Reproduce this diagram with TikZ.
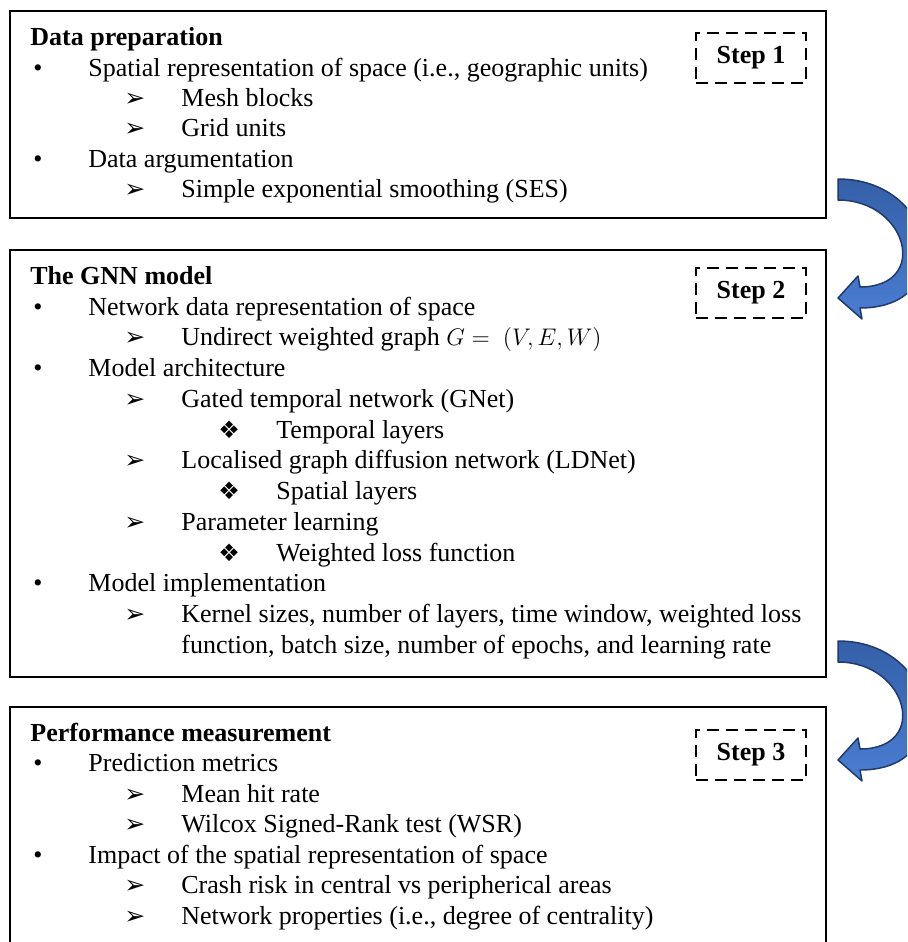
\documentclass[tikz,border=0pt]{standalone}
\usepackage{fontspec}
\setmainfont{Liberation Serif}
\newfontfamily\dingfont{DejaVu Sans}
\definecolor{arrowdark}{HTML}{1F3B6E}
\definecolor{arrowtop}{HTML}{3560A8}
\definecolor{arrowbot}{HTML}{4A7DD2}
\tikzset{
  panel/.style={draw=black, line width=0.75pt, inner sep=0, minimum width=408pt},
  stepbox/.style={draw=black, dash pattern=on 6pt off 3.5pt, line width=1pt,
    minimum width=55pt, minimum height=25pt, inner sep=0,
    font=\bfseries\fontsize{13}{15}\selectfont},
  txt/.style={anchor=base west, inner sep=0, font=\fontsize{13}{15}\selectfont},
  ttl/.style={anchor=base west, inner sep=0, font=\bfseries\fontsize{13}{15}\selectfont},
  bul/.style={anchor=base west, inner sep=0, font=\fontsize{13}{15}\selectfont},
  arr/.style={anchor=base west, inner sep=0, font=\dingfont\fontsize{12.5}{14}\selectfont},
  dia/.style={anchor=base west, inner sep=0, font=\dingfont\fontsize{12}{14}\selectfont},
  flow/.style={draw=arrowdark, line width=0.75pt, top color=arrowtop,
    bottom color=arrowbot, line join=round},
}
\begin{document}
\begin{tikzpicture}[x=0.5pt, y=-0.5pt]
\useasboundingbox (0,0) rectangle (907,942);
\clip (0,0) rectangle (907,942);

% panels
\node[panel, minimum height=103.5pt] (p1) at (418,114.5) {};
\node[panel, minimum height=213.5pt] (p2) at (418,463.5) {};
\node[panel, minimum height=130pt] (p3) at (418,837) {};

% step labels
\node[stepbox] (s1) at (751,58) {Step 1};
\node[stepbox] (s2) at (751,293) {Step 2};
\node[stepbox] (s3) at (751,755) {Step 3};

% box 1
\node[ttl] (t1) at (30,45) {Data preparation};
\node[bul] (b11) at (33,76) {•};
\node[txt] (l11) at (88,76) {Spatial representation of space (i.e., geographic units)};
\node[arr] (a111) at (124,106) {➢};
\node[txt] (l111) at (181,106) {Mesh blocks};
\node[arr] (a112) at (124,136) {➢};
\node[txt] (l112) at (181,136) {Grid units};
\node[bul] (b12) at (33,167) {•};
\node[txt] (l12) at (88,167) {Data argumentation};
\node[arr] (a121) at (124,197) {➢};
\node[txt] (l121) at (181,197) {Simple exponential smoothing (SES)};

% box 2
\node[ttl] (t2) at (30,284) {The GNN model};
\node[bul] (b21) at (33,315) {•};
\node[txt] (l21) at (88,315) {Network data representation of space};
\node[arr] (a211) at (124,345) {➢};
\node[txt] (l211) at (181,345) {Undirect weighted graph $G =\ (V, E, W)$};
\node[bul] (b22) at (33,376) {•};
\node[txt] (l22) at (88,376) {Model architecture};
\node[arr] (a221) at (124,407) {➢};
\node[txt] (l221) at (181,407) {Gated temporal network (GNet)};
\node[dia] (a2211) at (218,438) {❖};
\node[txt] (l2211) at (276,438) {Temporal layers};
\node[arr] (a222) at (124,468) {➢};
\node[txt] (l222) at (181,468) {Localised graph diffusion network (LDNet)};
\node[dia] (a2221) at (218,499) {❖};
\node[txt] (l2221) at (276,499) {Spatial layers};
\node[arr] (a223) at (124,530) {➢};
\node[txt] (l223) at (181,530) {Parameter learning};
\node[dia] (a2231) at (218,561) {❖};
\node[txt] (l2231) at (276,561) {Weighted loss function};
\node[bul] (b23) at (33,591) {•};
\node[txt] (l23) at (88,591) {Model implementation};
\node[arr] (a231) at (124,622) {➢};
\node[txt] (l231) at (181,622) {Kernel sizes, number of layers, time window, weighted loss};
\node[txt] (l231b) at (181,653) {function, batch size, number of epochs, and learning rate};

% box 3
\node[ttl] (t3) at (30,741) {Performance measurement};
\node[bul] (b31) at (33,771.5) {•};
\node[txt] (l31) at (88,771.5) {Prediction metrics};
\node[arr] (a311) at (124,802) {➢};
\node[txt] (l311) at (181,802) {Mean hit rate};
\node[arr] (a312) at (124,832.5) {➢};
\node[txt] (l312) at (181,832.5) {Wilcox Signed-Rank test (WSR)};
\node[bul] (b32) at (33,863) {•};
\node[txt] (l32) at (88,863) {Impact of the spatial representation of space};
\node[arr] (a321) at (124,893.5) {➢};
\node[txt] (l321) at (181,893.5) {Crash risk in central vs peripherical areas};
\node[arr] (a322) at (124,924) {➢};
\node[txt] (l322) at (181,924) {Network properties (i.e., degree of centrality)};

% curved arrows between panels
\foreach \dy/\nm in {0/f1, 462/f2} {
  \begin{scope}[shift={(0,\dy)}]
    \coordinate (\nm tail) at (838,189.5);
    \coordinate (\nm tip) at (838,298);
    \path[flow] (838,179) .. controls (938,179) and (960,308) .. (860,308)
      -- (862,319) -- (\nm tip) -- (858,276) -- (860,287)
      .. controls (930,287) and (908,200) .. (838,200) -- cycle;
  \end{scope}
}
\end{tikzpicture}
\end{document}
